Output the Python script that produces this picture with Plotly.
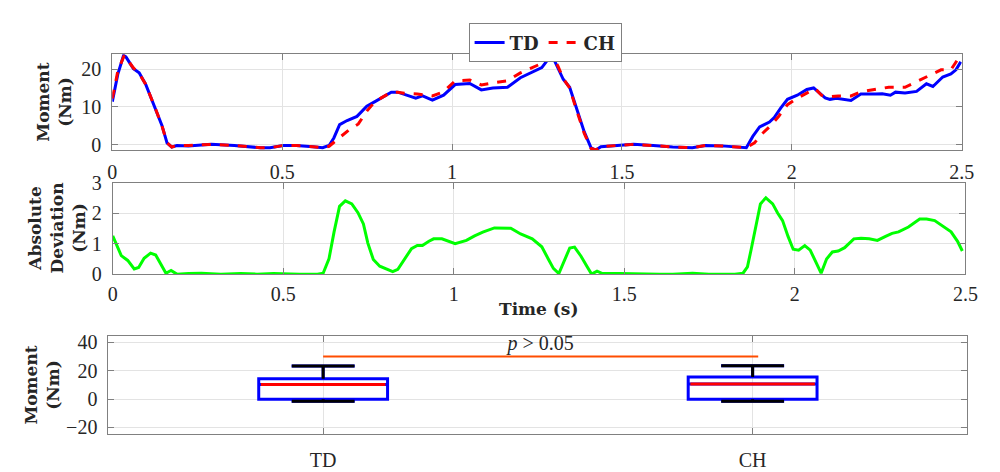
import plotly.graph_objects as go

# ---------------- data ----------------
td_t = [0.0, 0.016, 0.033, 0.04, 0.062, 0.079, 0.098, 0.127, 0.146, 0.161, 0.175, 0.19, 0.224, 0.291,
        0.359, 0.436, 0.464, 0.503, 0.541, 0.59, 0.619, 0.638, 0.652, 0.669, 0.691, 0.72, 0.749, 0.773,
        0.797, 0.821, 0.84, 0.859, 0.893, 0.913, 0.942, 0.975, 1.009, 1.052, 1.086, 1.12, 1.163, 1.201,
        1.23, 1.264, 1.293, 1.312, 1.327, 1.346, 1.365, 1.389, 1.409, 1.423, 1.438, 1.476, 1.534, 1.592,
        1.649, 1.707, 1.746, 1.794, 1.832, 1.866, 1.885, 1.905, 1.934, 1.948, 1.967, 1.987, 2.016, 2.044,
        2.064, 2.078, 2.098, 2.112, 2.131, 2.174, 2.203, 2.246, 2.266, 2.29, 2.305, 2.333, 2.367, 2.396,
        2.415, 2.444, 2.468, 2.483, 2.497]
td_m = [11.4, 18.6, 23.6, 23.2, 20.1, 19.0, 16.0, 9.7, 5.1, 0.5, -0.6, -0.2, -0.3, 0.1,
        -0.2, -0.8, -0.8, -0.2, -0.2, -0.5, -0.8, -0.2, 1.8, 5.3, 6.4, 7.5, 10.2, 11.4,
        12.7, 13.9, 13.9, 13.4, 12.3, 12.9, 11.8, 13.1, 15.9, 16.2, 14.5, 15.0, 15.2, 17.7,
        19.0, 20.4, 23.8, 20.3, 17.3, 15.2, 9.7, 3.4, -0.8, -1.4, -0.5, -0.2, 0.1, -0.2,
        -0.6, -0.8, -0.2, -0.3, -0.6, -0.8, 2.2, 4.7, 6.0, 7.2, 9.7, 12.0, 13.1, 14.6,
        15.0, 13.9, 12.4, 12.0, 12.3, 11.7, 13.4, 13.4, 13.5, 13.1, 13.9, 13.7, 14.1, 16.1,
        15.4, 17.9, 18.7, 19.8, 21.9]

ch_t = [0.0, 0.016, 0.035, 0.062, 0.079, 0.098, 0.127, 0.146, 0.161, 0.175, 0.19, 0.224, 0.291, 0.359,
        0.436, 0.464, 0.503, 0.541, 0.59, 0.619, 0.638, 0.667, 0.696, 0.724, 0.749, 0.773, 0.797, 0.821,
        0.84, 0.859, 0.898, 0.942, 0.975, 1.009, 1.052, 1.086, 1.129, 1.163, 1.201, 1.235, 1.264, 1.293,
        1.312, 1.327, 1.346, 1.365, 1.389, 1.409, 1.423, 1.438, 1.476, 1.534, 1.592, 1.649, 1.707, 1.746,
        1.794, 1.832, 1.866, 1.89, 1.909, 1.938, 1.962, 1.987, 2.016, 2.049, 2.069, 2.087, 2.112, 2.136,
        2.174, 2.203, 2.246, 2.285, 2.333, 2.372, 2.4, 2.439, 2.468, 2.487, 2.497]
ch_m = [12.2, 19.4, 23.6, 20.3, 18.8, 16.0, 9.5, 5.0, 0.5, -0.6, -0.2, -0.2, 0.1, -0.2,
        -0.8, -0.8, -0.2, -0.2, -0.5, -0.8, -0.4, 1.8, 3.9, 5.5, 8.9, 11.4, 12.7, 13.9,
        13.9, 13.6, 13.4, 12.9, 14.0, 16.9, 17.1, 15.8, 16.5, 16.9, 19.0, 20.3, 21.5, 23.6,
        20.7, 17.5, 15.0, 9.5, 3.0, -1.0, -1.4, -0.5, -0.2, 0.1, -0.2, -0.6, -0.8, -0.2,
        -0.3, -0.6, -0.8, 0.5, 2.6, 5.1, 7.6, 10.6, 12.3, 13.9, 14.8, 13.1, 12.7, 12.9,
        12.9, 14.0, 14.6, 15.2, 15.2, 16.9, 18.2, 19.8, 19.8, 22.4, 22.8]

dev_t = [0.0, 0.025, 0.044, 0.063, 0.076, 0.092, 0.111, 0.126, 0.14, 0.156, 0.171, 0.188, 0.222, 0.26,
         0.317, 0.375, 0.423, 0.471, 0.548, 0.6, 0.617, 0.634, 0.649, 0.665, 0.682, 0.701, 0.719, 0.735,
         0.748, 0.764, 0.783, 0.805, 0.821, 0.836, 0.855, 0.876, 0.893, 0.908, 0.927, 0.941, 0.965, 0.985,
         1.004, 1.037, 1.061, 1.085, 1.119, 1.167, 1.196, 1.23, 1.258, 1.277, 1.292, 1.308, 1.325, 1.34,
         1.354, 1.373, 1.391, 1.404, 1.42, 1.436, 1.488, 1.546, 1.604, 1.642, 1.7, 1.748, 1.796, 1.824,
         1.848, 1.861, 1.872, 1.887, 1.899, 1.915, 1.935, 1.949, 1.964, 1.98, 1.995, 2.011, 2.029, 2.045,
         2.06, 2.077, 2.093, 2.11, 2.127, 2.146, 2.173, 2.194, 2.218, 2.242, 2.266, 2.285, 2.304, 2.333,
         2.366, 2.386, 2.41, 2.434, 2.458, 2.477, 2.491]
dev_v = [1.26, 0.61, 0.45, 0.17, 0.22, 0.52, 0.69, 0.63, 0.35, 0.03, 0.12, 0.0, 0.02, 0.03,
         0.0, 0.02, 0.0, 0.02, 0.0, 0.0, 0.03, 0.5, 1.39, 2.23, 2.41, 2.31, 2.02, 1.65,
         1.02, 0.48, 0.26, 0.17, 0.08, 0.16, 0.5, 0.84, 0.94, 0.94, 1.08, 1.16, 1.16, 1.08,
         1.0, 1.11, 1.26, 1.38, 1.52, 1.51, 1.32, 1.16, 0.9, 0.5, 0.19, 0.02, 0.48, 0.86,
         0.89, 0.59, 0.24, 0.0, 0.1, 0.02, 0.02, 0.0, 0.0, 0.0, 0.03, 0.0, 0.0, 0.0,
         0.03, 0.24, 0.82, 1.65, 2.31, 2.51, 2.31, 2.02, 1.76, 1.24, 0.82, 0.79, 0.94, 0.79,
         0.45, 0.03, 0.5, 0.73, 0.76, 0.87, 1.16, 1.18, 1.16, 1.11, 1.24, 1.34, 1.39, 1.55,
         1.81, 1.81, 1.76, 1.57, 1.39, 1.08, 0.76]

groups = ["TD", "CH"]
group_pos = [1, 2]
q1 = [-0.2, -0.2]
median = [10.3, 10.6]
q3 = [14.4, 15.5]
lower_whisker = [-1.5, -1.5]
upper_whisker = [23.4, 23.6]
sig_x = [1.0, 2.013]
sig_y = [30, 30]
sig_text = "<i>p</i> > 0.05"

# ---------------- style ----------------
W, H = 1000, 472
AX = "#808080"
GRID = "#E3E3E3"
TXT = "#262626"
SERIF = "Liberation Serif, Times New Roman, Times, serif"
TICKFONT = dict(family=SERIF, size=20, color=TXT)
TITLEFONT = dict(family="DejaVu Serif", size=17, color=TXT)


def px_x(p):
    return p / W


def px_y(p):
    return 1 - p / H


fig = go.Figure()

fig.add_trace(go.Scatter(x=td_t, y=td_m, mode="lines", name="<b>TD</b>",
                         line=dict(color="#0000FF", width=3), xaxis="x", yaxis="y"))
fig.add_trace(go.Scatter(x=ch_t, y=ch_m, mode="lines", name="<b>CH</b>",
                         line=dict(color="#FF0000", width=3, dash="dash"), xaxis="x", yaxis="y"))
fig.add_trace(go.Scatter(x=dev_t, y=dev_v, mode="lines", showlegend=False,
                         line=dict(color="#00FF00", width=3), xaxis="x2", yaxis="y2"))

# box plots
box_w = 0.3
cap_half = 0.073
for i in range(2):
    fig.add_trace(go.Box(x=[group_pos[i]], q1=[q1[i]], median=[median[i]], q3=[q3[i]],
                         lowerfence=[lower_whisker[i]], upperfence=[upper_whisker[i]],
                         width=box_w, whiskerwidth=0.49, boxpoints=False,
                         line=dict(color="#0000FF", width=3), fillcolor="rgba(0,0,0,0)",
                         showlegend=False, hoverinfo="skip", xaxis="x3", yaxis="y3"))
    p = group_pos[i]
    # whiskers (black)
    fig.add_trace(go.Scatter(
        x=[p, p, None, p - cap_half, p + cap_half, None, p, p, None, p - cap_half, p + cap_half],
        y=[q3[i], upper_whisker[i], None, upper_whisker[i], upper_whisker[i], None,
           q1[i], lower_whisker[i], None, lower_whisker[i], lower_whisker[i]],
        mode="lines", line=dict(color="#000000", width=3), showlegend=False,
        hoverinfo="skip", xaxis="x3", yaxis="y3"))
    # median (red)
    fig.add_trace(go.Scatter(x=[p - box_w / 2 + 0.005, p + box_w / 2 - 0.005], y=[median[i], median[i]],
                             mode="lines", line=dict(color="#FF0000", width=3), showlegend=False,
                             hoverinfo="skip", xaxis="x3", yaxis="y3"))

fig.add_trace(go.Scatter(x=sig_x, y=sig_y, mode="lines", line=dict(color="#FF4D00", width=2),
                         showlegend=False, hoverinfo="skip", xaxis="x3", yaxis="y3"))
fig.add_trace(go.Scatter(x=[sum(sig_x) / 2], y=[38.5], mode="text", text=[sig_text],
                         textfont=dict(family=SERIF, size=20, color=TXT),
                         showlegend=False, hoverinfo="skip", xaxis="x3", yaxis="y3"))

axis_common = dict(showline=True, linecolor=AX, linewidth=1, mirror="allticks", ticks="inside",
                   ticklen=6, tickcolor=AX, showgrid=True, gridcolor=GRID, gridwidth=1,
                   zeroline=False, tickfont=TICKFONT)

fig.update_layout(
    width=W, height=H, margin=dict(l=0, r=0, t=0, b=0),
    paper_bgcolor="white", plot_bgcolor="white",
    xaxis=dict(domain=[px_x(109.3), px_x(974.3)], range=[0, 2.5], tickvals=[0, 0.5, 1, 1.5, 2, 2.5],
               anchor="y", ticklabelstandoff=4, **axis_common),
    yaxis=dict(domain=[px_y(146), px_y(45.3)], range=[-1.44, 23.93], tickvals=[0, 10, 20],
               anchor="x", ticklabelstandoff=6, **axis_common),
    xaxis2=dict(domain=[px_x(109.7), px_x(978)], range=[0, 2.5], tickvals=[0, 0.5, 1, 1.5, 2, 2.5],
                anchor="y2", ticklabelstandoff=2, **axis_common),
    yaxis2=dict(domain=[px_y(276), px_y(180.3)], range=[0, 3], tickvals=[0, 1, 2, 3],
                anchor="x2", ticklabelstandoff=6, **axis_common),
    xaxis3=dict(domain=[px_x(105.3), px_x(980)], range=[0.5, 2.5], tickvals=group_pos, ticktext=groups,
                anchor="y3", ticklabelstandoff=8, **axis_common),
    yaxis3=dict(domain=[px_y(443.3), px_y(341)], range=[-24.5, 44.5], tickvals=[-20, 0, 20, 40],
                anchor="x3", ticklabelstandoff=6, **axis_common),
    legend=dict(orientation="h", x=px_x(550), y=px_y(13), xanchor="center", yanchor="top",
                bordercolor=AX, borderwidth=1, bgcolor="white",
                font=dict(family="DejaVu Serif", size=18, color=TXT),
                itemwidth=30, tracegroupgap=0),
    showlegend=True,
)

annotations = [
    dict(text="<b>Moment<br>(Nm)</b>", x=px_x(49), y=px_y(96), textangle=-90),
    dict(text="<b>Absolute<br>Deviation<br>(Nm)</b>", x=px_x(53), y=px_y(228), textangle=-90),
    dict(text="<b>Moment<br>(Nm)</b>", x=px_x(37.5), y=px_y(392), textangle=-90),
    dict(text="<b>Time (s)</b>", x=px_x(544), y=px_y(313), textangle=0),
]
for a in annotations:
    fig.add_annotation(xref="paper", yref="paper", xanchor="center", yanchor="middle",
                       showarrow=False, font=TITLEFONT, **a)

fig.write_html("out.html")
